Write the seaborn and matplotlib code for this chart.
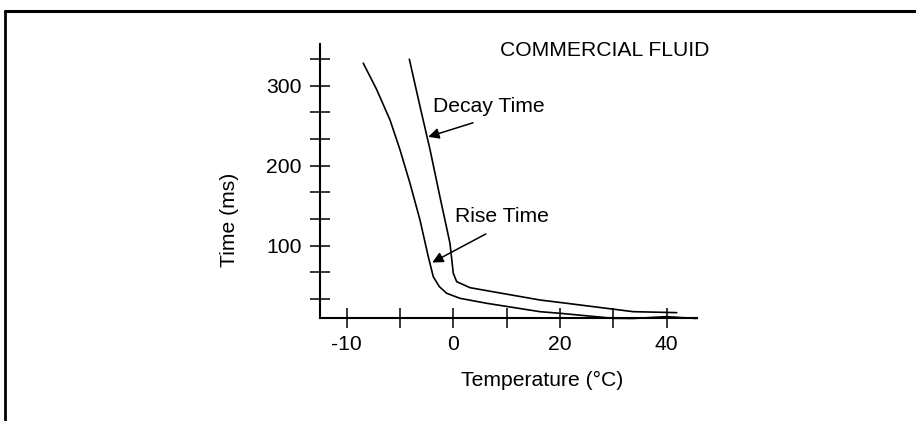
import numpy as np
import pandas as pd
import matplotlib
matplotlib.use("Agg")
import matplotlib.pyplot as plt
import matplotlib.ticker as mticker
from matplotlib.lines import Line2D
import seaborn as sns

# Curves (temperature in degC, time in ms)
decay_temp = [-4.12, -3.12, -2.18, -1.25, -0.31, 0.0, 0.64, 3.13, 6.26, 16.26, 21.25, 33.75, 41.9]
decay_ms = [333, 274, 220, 161, 103, 65.5, 55, 47.5, 43.8, 32.1, 28, 17.5, 16.3]

rise_temp = [-8.44, -7.18, -5.93, -5.0, -4.06, -3.12, -2.34, -1.87, -1.3, -0.62,
             1.26, 6.26, 16.26, 20, 30, 33.75, 40, 45.6]
rise_ms = [328, 295, 257, 220, 178, 132, 86, 61, 48.7, 40.5,
           34.2, 28, 17.5, 15.5, 9.2, 9.0, 11.3, 9.0]

x_ticks = [-10, -5, 0, 10, 20, 30, 40]
x_labels = ["-10", "", "0", "", "20", "", "40"]
y_major = [100, 200, 300]
y_minor = [100 / 3 * k for k in range(1, 11) if k % 3 != 0]

FS = 15.2

sns.set_style("ticks")
plt.rcParams["font.family"] = ["Liberation Sans", "DejaVu Sans"]
plt.rcParams["axes.unicode_minus"] = False
plt.rcParams["text.color"] = "black"
plt.rcParams["axes.labelcolor"] = "black"

fig = plt.figure(figsize=(9.16, 4.21), dpi=100)
ax = fig.add_axes([0.3493, 0.2435, 0.4116, 0.652])

# the original axis is stretched below 0 degC (5 deg per tick instead of 10)
def fwd(t):
    t = np.asarray(t, dtype=float)
    return np.where(t < 0, 2 * t, t)

def inv(u):
    u = np.asarray(u, dtype=float)
    return np.where(u < 0, u / 2, u)

ax.set_xscale("function", functions=(fwd, inv))

df_decay = pd.DataFrame({"temp": decay_temp, "ms": decay_ms})
df_rise = pd.DataFrame({"temp": rise_temp, "ms": rise_ms})
sns.lineplot(data=df_decay, x="temp", y="ms", ax=ax, color="black", lw=1.2, sort=False, clip_on=False)
sns.lineplot(data=df_rise, x="temp", y="ms", ax=ax, color="black", lw=1.2, sort=False, clip_on=False)

ax.set_xlim(-12.5, 45.7)
ax.set_ylim(9, 352)

ax.set_xticks(x_ticks)
ax.set_xticklabels(x_labels)
ax.set_yticks(y_major)
ax.set_yticks(y_minor, minor=True)
ax.xaxis.set_minor_locator(mticker.NullLocator())
ax.tick_params(axis="both", which="both", direction="inout", length=14, width=1.1,
               labelsize=FS, colors="black")
ax.tick_params(axis="x", pad=5)
ax.tick_params(axis="y", pad=6)

sns.despine(ax=ax)
for s in ["left", "bottom"]:
    ax.spines[s].set_linewidth(1.5)
    ax.spines[s].set_color("black")

ax.set_xlabel("Temperature (\u00b0C)", fontsize=FS)
ax.set_ylabel("Time (ms)", fontsize=FS)
ax.xaxis.set_label_coords(0.59, -0.19)
ax.yaxis.set_label_coords(-0.215, 0.36)

ax.text(0.477, 0.976, "COMMERCIAL FLUID", transform=ax.transAxes, fontsize=FS,
        ha="left", va="center")
ax.text(0.300, 0.772, "Decay Time", transform=ax.transAxes, fontsize=FS,
        ha="left", va="center")
ax.text(0.358, 0.371, "Rise Time", transform=ax.transAxes, fontsize=FS,
        ha="left", va="center")

arrow = dict(arrowstyle="-|>", color="black", lw=1.1, mutation_scale=16,
             shrinkA=0, shrinkB=0)
ax.annotate("", xy=(-2.35, 236), xycoords="data", xytext=(0.406, 0.713),
            textcoords="axes fraction", arrowprops=arrow)
ax.annotate("", xy=(-1.97, 79), xycoords="data", xytext=(0.440, 0.308),
            textcoords="axes fraction", arrowprops=arrow)

# page frame
fig.add_artist(Line2D([0.0055, 1.0], [0.9727, 0.9727], transform=fig.transFigure,
                      color="black", lw=2.2))
fig.add_artist(Line2D([0.0055, 0.0055], [0.9727, 0.0], transform=fig.transFigure,
                      color="black", lw=2.0))

fig.savefig("out.png", dpi=100)
